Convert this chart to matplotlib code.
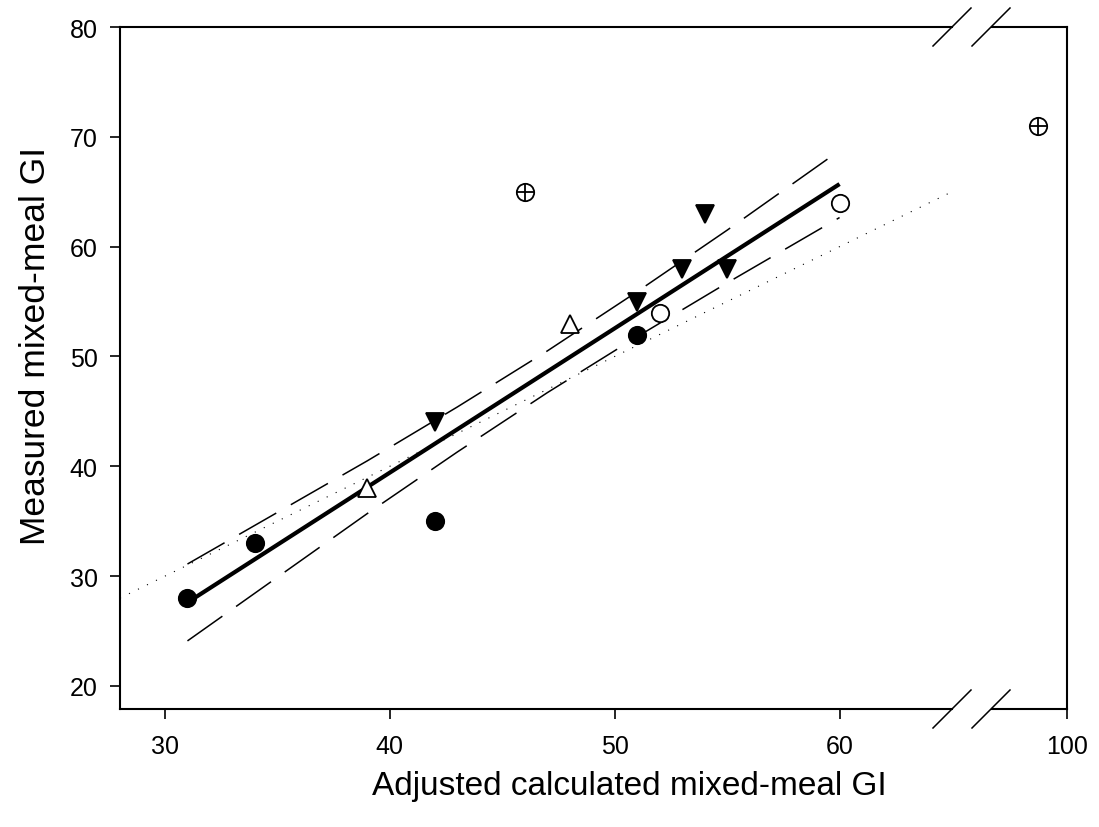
import numpy as np
import matplotlib
matplotlib.use("Agg")
import matplotlib.pyplot as plt
from matplotlib.lines import Line2D

plt.rcParams['font.family'] = ['Liberation Sans', 'DejaVu Sans']

# measured vs adjusted calculated GI, grouped by marker type
filled_circle_x = [31, 34, 42, 51]
filled_circle_y = [28, 33, 35, 52]
open_triangle_x = [39, 48]
open_triangle_y = [38, 53]
down_triangle_x = [42, 51, 53, 54, 55]
down_triangle_y = [44, 55, 58, 63, 58]
open_circle_x = [52, 60]
open_circle_y = [54, 64]
crossed_x = [46, 98.7]
crossed_y = [65, 71]

# regression line and 95% band
fit_x = [31, 60]
fit_y = [27.6, 65.7]
band_x = [31, 35, 39, 43, 47, 51, 55, 60]
band_upper = [31.1, 35.8, 40.5, 45.4, 50.5, 55.9, 61.5, 68.75]
band_lower = [24.1, 29.9, 35.7, 41.3, 46.7, 51.8, 56.7, 62.65]

# line of identity
ident_x = [28, 65]
ident_y = [28, 65]

W, H = 1099, 828
fig = plt.figure(figsize=(W / 100, H / 100), dpi=100)

bot = 1 - 710 / H
top = 1 - 28 / H
ax = fig.add_axes([120 / W, bot, (952 - 120) / W, top - bot])
ax2 = fig.add_axes([992 / W, bot, (1067 - 992) / W, top - bot], sharey=ax)

ms = 12.5
mew = 1.3


def draw_points(a):
    a.plot(filled_circle_x, filled_circle_y, 'o', ms=ms, mfc='black', mec='black', mew=mew, zorder=5)
    a.plot(open_triangle_x, open_triangle_y, '^', ms=ms, mfc='white', mec='black', mew=mew, zorder=5)
    a.plot(down_triangle_x, down_triangle_y, 'v', ms=ms, mfc='black', mec='black', mew=mew, zorder=5)
    a.plot(open_circle_x, open_circle_y, 'o', ms=ms, mfc='white', mec='black', mew=mew, zorder=5)
    a.plot(crossed_x, crossed_y, 'o', ms=ms, mfc='white', mec='black', mew=mew, zorder=5)
    a.plot(crossed_x, crossed_y, '+', ms=ms, mec='black', mew=mew, zorder=6)


for a in (ax, ax2):
    draw_points(a)

ax.plot(ident_x, ident_y, color='black', lw=0.8, ls=(0, (1, 8)), zorder=2)
ax.plot(band_x, band_upper, color='black', lw=1.1, ls=(0, (28, 11)), zorder=3)
ax.plot(band_x, band_lower, color='black', lw=1.1, ls=(0, (28, 11)), zorder=3)
ax.plot(fit_x, fit_y, color='black', lw=3.0, solid_capstyle='butt', zorder=4)

ax.set_xlim(28, 65)
ax2.set_xlim(100 - 75 / 22.5, 100)
ax.set_ylim(17.9, 80)

ax.set_xticks([30, 40, 50, 60])
ax.set_yticks([20, 30, 40, 50, 60, 70, 80])
ax2.set_xticks([100])

for a in (ax, ax2):
    for s in a.spines.values():
        s.set_linewidth(1.5)
    a.tick_params(direction='out', length=7, width=1.2, labelsize=18, pad=9)
    a.tick_params(axis='x', pad=11)

ax.spines['right'].set_visible(False)
ax2.spines['left'].set_visible(False)
ax2.tick_params(axis='y', left=False, labelleft=False)

# break marks on the x axis
for yb in (28, 710):
    for x0 in (933, 972):
        fig.add_artist(Line2D([x0 / W, (x0 + 38) / W],
                              [1 - (yb + 19) / H, 1 - (yb - 19) / H],
                              color='black', lw=1.1, transform=fig.transFigure))

fig.text(629 / W, 1 - 787 / H, 'Adjusted calculated mixed-meal GI',
         ha='center', va='center', fontsize=24)
fig.text(36 / W, 1 - 346 / H, 'Measured mixed-meal GI',
         ha='center', va='center', rotation=90, fontsize=25.5)

fig.savefig('out.png', dpi=100)
